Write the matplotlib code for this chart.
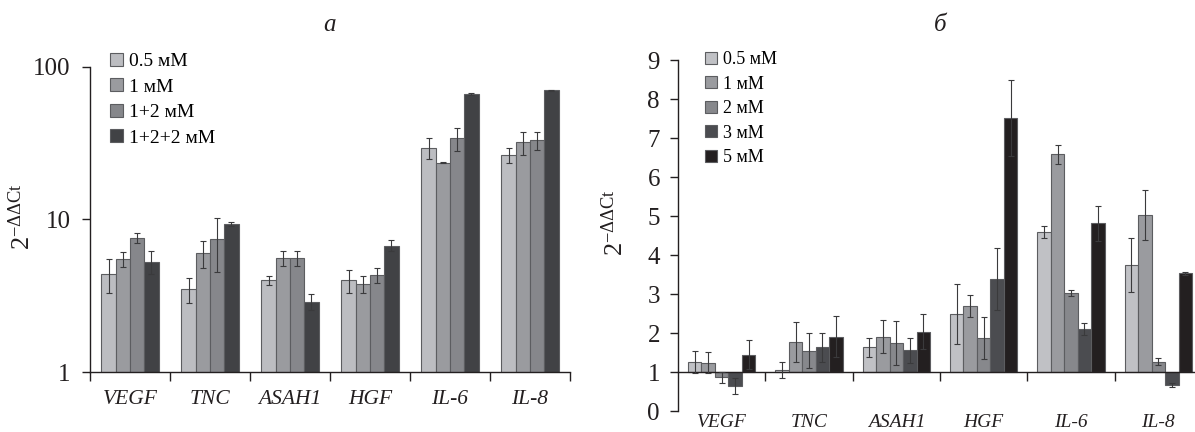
import matplotlib
matplotlib.use("Agg")
import matplotlib.pyplot as plt
import matplotlib.transforms as mtransforms
import numpy as np

plt.rcParams["font.family"] = ["Liberation Serif", "DejaVu Serif"]
plt.rcParams["mathtext.fontset"] = "custom"
plt.rcParams["mathtext.rm"] = "Liberation Serif"
plt.rcParams["mathtext.it"] = "Liberation Serif:italic"

genes = ["VEGF", "TNC", "ASAH1", "HGF", "IL-6", "IL-8"]

# panel a (log scale)
labels_a = ["0.5 мМ", "1 мМ", "1+2 мМ", "1+2+2 мМ"]
values_a = [
    [4.4, 3.5, 4.0, 4.0, 29.5, 26.5],
    [5.5, 6.0, 5.6, 3.8, 23.6, 32.0],
    [7.6, 7.4, 5.6, 4.35, 34.0, 33.0],
    [5.3, 9.3, 2.9, 6.75, 66.0, 70.0],
]
errors_a = [
    [1.1, 0.65, 0.3, 0.7, 4.5, 3.0],
    [0.6, 1.2, 0.65, 0.5, 0.3, 5.5],
    [0.6, 2.9, 0.65, 0.5, 6.0, 4.5],
    [0.9, 0.3, 0.35, 0.55, 0.8, 0.5],
]
colors_a = ["#bcbdc1", "#9a9b9f", "#86878b", "#414245"]

# panel b (linear, bars start at 1)
labels_b = ["0.5 мМ", "1 мМ", "2 мМ", "3 мМ", "5 мМ"]
values_b = [
    [1.26, 1.05, 1.63, 2.50, 4.60, 3.75],
    [1.24, 1.78, 1.91, 2.69, 6.59, 5.03],
    [0.87, 1.55, 1.74, 1.88, 3.03, 1.26],
    [0.64, 1.63, 1.56, 3.39, 2.10, 0.67],
    [1.45, 1.91, 2.03, 7.52, 4.82, 3.53],
]
errors_b = [
    [0.29, 0.20, 0.25, 0.77, 0.15, 0.70],
    [0.27, 0.51, 0.43, 0.28, 0.24, 0.63],
    [0.14, 0.44, 0.57, 0.54, 0.08, 0.09],
    [0.21, 0.38, 0.32, 0.79, 0.16, 0.06],
    [0.37, 0.53, 0.45, 0.98, 0.45, 0.03],
]
colors_b = ["#c0c1c5", "#9a9b9f", "#87888c", "#4b4c50", "#231f20"]

TEXT = "#231f20"
EDGE = "#5c5d60"
ERR = "#3a3a3c"
YLABEL = r"$2^{-\Delta\Delta \mathrm{Ct}}$"

fig = plt.figure(figsize=(11.95, 4.32), dpi=100)
ax_a = fig.add_axes([90 / 1195, 0.1382, 480 / 1195, 0.7074])
ax_b = fig.add_axes([678 / 1195, 0.0486, 524 / 1195, 0.8118])

x = np.arange(len(genes)) + 0.5

# ---- panel a ----
w_a = 0.179
n_a = len(labels_a)
handles_a = []
for i, (vals, errs) in enumerate(zip(values_a, errors_a)):
    pos = x + (i - (n_a - 1) / 2) * w_a
    b = ax_a.bar(pos, vals, width=w_a, bottom=0, color=colors_a[i],
                 edgecolor=EDGE, linewidth=0.8, zorder=2)
    ax_a.errorbar(pos, vals, yerr=errs, fmt="none", ecolor=ERR,
                  elinewidth=0.8, capsize=2, capthick=0.8, zorder=3)
    handles_a.append(b)

ax_a.set_yscale("log")
ax_a.set_ylim(1, 100)
ax_a.set_xlim(0, 6)
ax_a.set_yticks([1, 10, 100])
ax_a.set_yticklabels(["1", "10", "100"])
ax_a.yaxis.set_minor_locator(matplotlib.ticker.NullLocator())
ax_a.set_xticks(np.arange(0, 7))
ax_a.set_xticklabels([])
ax_a.set_xticks(x, minor=True)
ax_a.set_xticklabels(genes, minor=True, style="italic", fontsize=15.5)
ax_a.tick_params(axis="x", which="major", direction="out", length=6.5,
                 width=1.0, color=TEXT)
ax_a.tick_params(axis="x", which="minor", length=0, pad=13, colors=TEXT)
ax_a.tick_params(axis="y", direction="out", length=6, width=1.0,
                 labelsize=18, pad=8, colors=TEXT)
for side in ["top", "right"]:
    ax_a.spines[side].set_visible(False)
for side in ["left", "bottom"]:
    ax_a.spines[side].set_color(TEXT)
    ax_a.spines[side].set_linewidth(1.0)
fig.text(22 / 1195, 1 - 217 / 432, YLABEL, rotation=90, ha="center",
         va="center", fontsize=19, color=TEXT)
fig.text(329 / 1195, 1 - 25 / 432, "a", ha="center", va="center",
         fontsize=18, style="italic", color=TEXT)
fig.legend(handles_a, labels_a, loc="upper left",
           bbox_to_anchor=(110 / 1195, 1 - 53 / 432), frameon=False,
           fontsize=14, handlelength=0.65, handleheight=0.65,
           handletextpad=0.35, labelspacing=0.42, borderpad=0,
           borderaxespad=0)

# ---- panel b ----
w_b = 0.154
n_b = len(labels_b)
handles_b = []
for i, (vals, errs) in enumerate(zip(values_b, errors_b)):
    pos = x + (i - (n_b - 1) / 2) * w_b
    heights = np.array(vals) - 1
    b = ax_b.bar(pos, heights, width=w_b, bottom=1, color=colors_b[i],
                 edgecolor=EDGE, linewidth=0.8, zorder=2)
    ax_b.errorbar(pos, vals, yerr=errs, fmt="none", ecolor=ERR,
                  elinewidth=0.8, capsize=2, capthick=0.8, zorder=3)
    handles_b.append(b)

ax_b.set_ylim(0, 9)
ax_b.set_xlim(0, 6)
ax_b.set_yticks(range(0, 10))
ax_b.spines["bottom"].set_position(("data", 1))
ax_b.set_xticks(np.arange(1, 7))
ax_b.set_xticklabels([])
ax_b.tick_params(axis="x", direction="out", length=6.3, width=1.0, color=TEXT)
ax_b.tick_params(axis="y", direction="out", length=6, width=1.0,
                 labelsize=18, pad=7, colors=TEXT)
for side in ["top", "right"]:
    ax_b.spines[side].set_visible(False)
for side in ["left", "bottom"]:
    ax_b.spines[side].set_color(TEXT)
    ax_b.spines[side].set_linewidth(1.0)
trans = mtransforms.blended_transform_factory(ax_b.transData, ax_b.transAxes)
for xi, g in zip(x, genes):
    ax_b.annotate(g, xy=(xi, 0), xycoords=trans, xytext=(0, -2),
                  textcoords="offset points", ha="center", va="top",
                  fontsize=14, style="italic", color=TEXT,
                  annotation_clip=False)
fig.text(615 / 1195, 1 - 223 / 432, YLABEL, rotation=90, ha="center",
         va="center", fontsize=19, color=TEXT)
fig.text(940 / 1195, 1 - 25 / 432, "б", ha="center", va="center",
         fontsize=18, style="italic", color=TEXT)
fig.legend(handles_b, labels_b, loc="upper left",
           bbox_to_anchor=(705 / 1195, 1 - 51 / 432), frameon=False,
           fontsize=13, handlelength=0.65, handleheight=0.65,
           handletextpad=0.35, labelspacing=0.42, borderpad=0,
           borderaxespad=0)

fig.savefig("out.png", dpi=100)
